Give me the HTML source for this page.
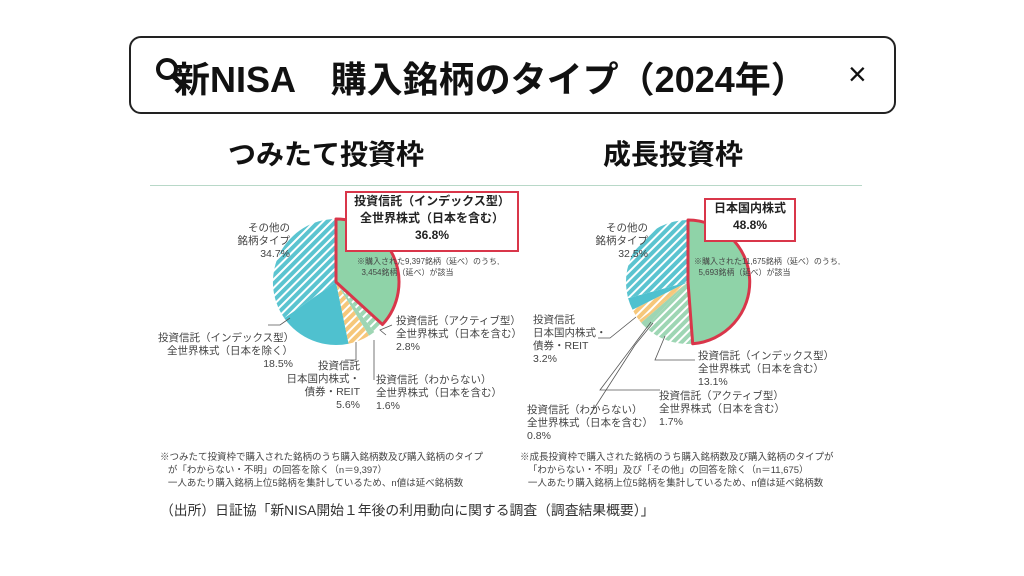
<!DOCTYPE html>
<html><head><meta charset="utf-8"><style>
body{margin:0;width:1024px;height:576px;background:#fff;font-family:"Liberation Sans","Noto Sans CJK JP",sans-serif;position:relative;overflow:hidden;color:#333}
.a{position:absolute;white-space:nowrap}
.s{font-size:10.5px;line-height:13px;color:#444}
</style></head><body>
<div class="a" style="left:129px;top:36px;width:763px;height:74px;border:2px solid #222;border-radius:12px"></div>
<svg class="a" style="left:152px;top:55px" width="40" height="40"><circle cx="15" cy="14" r="9" fill="none" stroke="#111" stroke-width="4"/><line x1="21" y1="21" x2="31" y2="31" stroke="#111" stroke-width="5" stroke-linecap="round"/></svg>
<div class="a" style="left:174px;top:51px;font-size:36px;font-weight:bold;color:#111">新NISA　購入銘柄のタイプ（2024年）</div>
<div class="a" style="left:848px;top:56px;font-size:32px;color:#111">×</div>
<div class="a" style="left:228px;top:133px;font-size:28px;font-weight:bold;color:#111">つみたて投資枠</div>
<div class="a" style="left:603px;top:133px;font-size:28px;font-weight:bold;color:#111">成長投資枠</div>
<div class="a" style="left:150px;top:185px;width:712px;height:1px;background:#b8d8c8"></div>
<svg id="g" class="a" style="left:0;top:0" width="1024" height="576">
<defs>
<pattern id="ht" width="6" height="6" patternUnits="userSpaceOnUse" patternTransform="rotate(45)"><rect width="6" height="6" fill="#5bc4d0"/><rect width="2" height="6" fill="#fff"/></pattern>
<pattern id="hg" width="6" height="6" patternUnits="userSpaceOnUse" patternTransform="rotate(45)"><rect width="6" height="6" fill="#9ed6b4"/><rect width="2" height="6" fill="#fff"/></pattern>
<pattern id="hy" width="6" height="6" patternUnits="userSpaceOnUse" patternTransform="rotate(45)"><rect width="6" height="6" fill="#f6c77a"/><rect width="2" height="6" fill="#fff"/></pattern>
</defs>
<g stroke="#555" stroke-width="0.8" fill="none">
<polyline points="290,318 280,325 268,325"/><polyline points="356,342 356,360 345,360"/><polyline points="374,340 374,380"/><polyline points="386,335 380,330 392,325"/>
<polyline points="636,317 610,338 598,338"/><polyline points="653,323 635,345 590,415"/><polyline points="651,322 600,390 660,390"/><polyline points="665,336 655,360 695,360"/>
</g>
</svg>
<div class="a" style="left:345px;top:191px;width:170px;height:57px;border:2px solid #d9364a;background:#fff;text-align:center;font-size:12px;font-weight:bold;line-height:17px;color:#222">投資信託（インデックス型）<br>全世界株式（日本を含む）<br>36.8%</div>
<div class="a" style="left:704px;top:198px;width:88px;height:40px;border:2px solid #d9364a;background:#fff;text-align:center;font-size:12px;font-weight:bold;line-height:17px;color:#222">日本国内株式<br>48.8%</div>
<div class="a s" style="left:357px;top:256px;font-size:8px;line-height:11px">※購入された9,397銘柄（延べ）のうち,<br>&nbsp;&nbsp;3,454銘柄（延べ）が該当</div>
<div class="a s" style="left:694px;top:256px;font-size:8px;line-height:11px">※購入された11,675銘柄（延べ）のうち,<br>&nbsp;&nbsp;5,693銘柄（延べ）が該当</div>
<div class="a s" style="left:230px;top:222px;text-align:right;width:60px">その他の<br>銘柄タイプ<br>34.7%</div>
<div class="a s" style="left:158px;top:332px;text-align:right;width:135px">投資信託（インデックス型）<br>全世界株式（日本を除く）<br>18.5%</div>
<div class="a s" style="left:270px;top:360px;text-align:right;width:90px">投資信託<br>日本国内株式・<br>債券・REIT<br>5.6%</div>
<div class="a s" style="left:376px;top:374px">投資信託（わからない）<br>全世界株式（日本を含む）<br>1.6%</div>
<div class="a s" style="left:396px;top:315px">投資信託（アクティブ型）<br>全世界株式（日本を含む）<br>2.8%</div>
<div class="a s" style="left:588px;top:222px;text-align:right;width:60px">その他の<br>銘柄タイプ<br>32.5%</div>
<div class="a s" style="left:533px;top:314px">投資信託<br>日本国内株式・<br>債券・REIT<br>3.2%</div>
<div class="a s" style="left:698px;top:350px">投資信託（インデックス型）<br>全世界株式（日本を含む）<br>13.1%</div>
<div class="a s" style="left:659px;top:390px">投資信託（アクティブ型）<br>全世界株式（日本を含む）<br>1.7%</div>
<div class="a s" style="left:527px;top:404px">投資信託（わからない）<br>全世界株式（日本を含む）<br>0.8%</div>
<div class="a s" style="left:160px;top:451px;font-size:9.5px">※つみたて投資枠で購入された銘柄のうち購入銘柄数及び購入銘柄のタイプ<br>&nbsp;&nbsp;&nbsp;が「わからない・不明」の回答を除く（n＝9,397）<br>&nbsp;&nbsp;&nbsp;一人あたり購入銘柄上位5銘柄を集計しているため、n値は延べ銘柄数</div>
<div class="a s" style="left:520px;top:451px;font-size:9.5px">※成長投資枠で購入された銘柄のうち購入銘柄数及び購入銘柄のタイプが<br>&nbsp;&nbsp;&nbsp;「わからない・不明」及び「その他」の回答を除く（n＝11,675）<br>&nbsp;&nbsp;&nbsp;一人あたり購入銘柄上位5銘柄を集計しているため、n値は延べ銘柄数</div>
<div class="a" style="left:160px;top:499px;font-size:13.8px;color:#333">（出所）日証協「新NISA開始１年後の利用動向に関する調査（調査結果概要）」</div>
<script>
var g=document.getElementById('g');
function pie(cx,cy,r,sl){var a=0;sl.forEach(function(s){var a2=a+s[0]*3.6;var p=function(d){var t=(d-90)*Math.PI/180;return (cx+r*Math.cos(t)).toFixed(1)+','+(cy+r*Math.sin(t)).toFixed(1)};
var path=document.createElementNS('http://www.w3.org/2000/svg','path');
path.setAttribute('d','M'+cx+','+cy+' L'+p(a)+' A'+r+','+r+' 0 '+(a2-a>180?1:0)+' 1 '+p(a2)+' Z');
path.setAttribute('fill',s[1]);if(s[2]){path.setAttribute('stroke','#d9364a');path.setAttribute('stroke-width','3');path.setAttribute('stroke-linejoin','round');}
g.insertBefore(path,g.firstChild.nextSibling);a=a2;});}
pie(336,282,63,[[36.8,'#8fd3a8',1],[2.8,'url(#hg)'],[1.6,'#9ed6b4'],[5.6,'url(#hy)'],[18.5,'#4fc1cf'],[34.7,'url(#ht)']]);
pie(688,282,62,[[48.8,'#8fd3a8',1],[13.1,'url(#hg)'],[1.7,'#9ed6b4'],[0.8,'#f6c77a'],[3.2,'url(#hy)'],[3.2,'#4fc1cf'],[29.2,'url(#ht)']]);
</script>
</body></html>
